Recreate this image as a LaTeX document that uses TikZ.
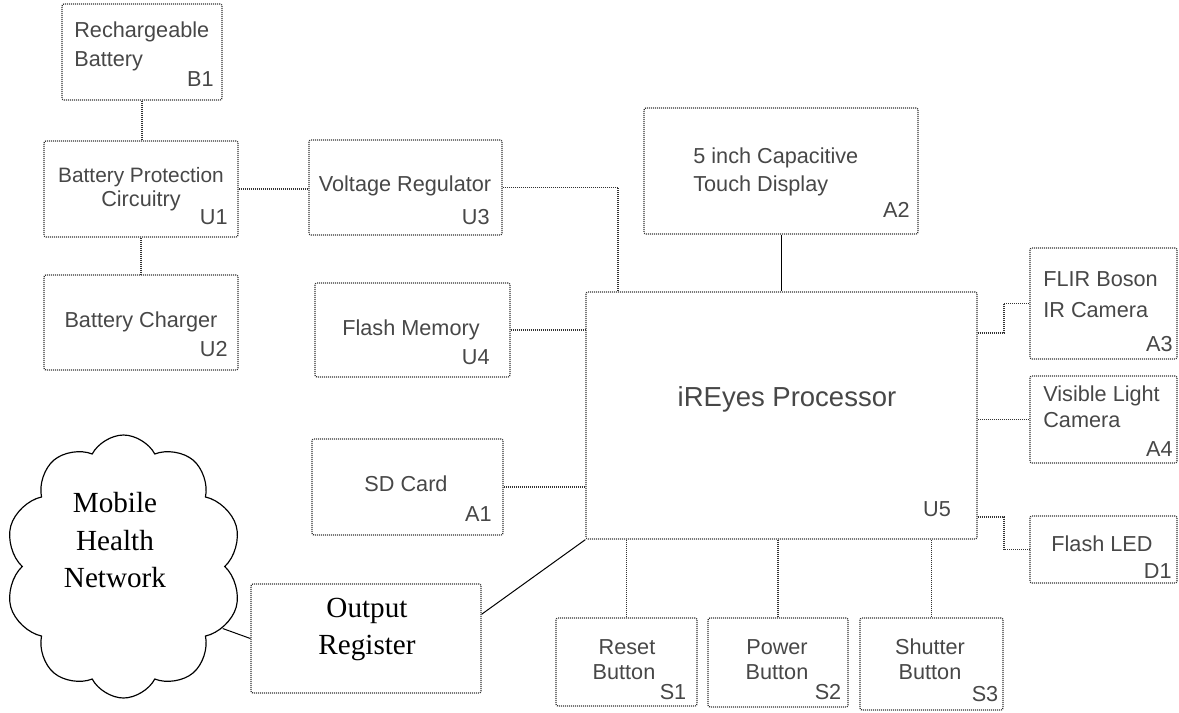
\documentclass[tikz,border=0pt]{standalone}
\usepackage{fontspec}
\setmainfont{Liberation Sans}
\newfontfamily\seriffam{Liberation Serif}
\usetikzlibrary{shapes.symbols,calc}
\newcommand\mkbox[5]{\node[box, minimum width={(#4-#2)*0.6pt}, minimum height={(#5-#3)*0.6pt}] (#1) at ({(#2+#4)/2},{(#3+#5)/2}) {};}
\begin{document}
\begin{tikzpicture}[x=0.6pt,y=-0.6pt,
  box/.style={draw=black!80, line width=0.75pt, dash pattern=on 0.6pt off 0.6pt, rounded corners=1.2pt, inner sep=0pt},
  link/.style={draw=black!80, line width=0.75pt, dash pattern=on 0.6pt off 0.6pt},
  solidlink/.style={draw=black, line width=0.6pt},
  txt/.style={font=\fontsize{13}{15}\selectfont, text=black!72, inner sep=0pt},
  stxt/.style={font=\seriffam\fontsize{17.5}{21}\selectfont, text=black, inner sep=0pt}]
\useasboundingbox (0,0) rectangle (1179,712);
% boxes
\mkbox{B1}{62}{4}{222}{100}
\mkbox{U1}{44}{141}{238}{237}
\mkbox{U2}{44}{275}{238}{370}
\mkbox{U3}{309}{140}{502}{235}
\mkbox{U4}{315}{283}{510}{377}
\mkbox{A1}{312}{439}{503}{535}
\mkbox{A2}{644}{108}{918}{234}
\mkbox{U5}{586}{292}{977}{539}
\mkbox{A3}{1030}{248}{1177}{359}
\mkbox{A4}{1030}{376}{1177}{463}
\mkbox{D1}{1030}{516}{1177}{583}
\mkbox{S1}{556}{618}{697}{706}
\mkbox{S2}{708}{618}{848}{707}
\mkbox{S3}{860}{618}{1003}{710}
\mkbox{OR}{251}{584}{481}{693}
\node[cloud, cloud puffs=10, cloud puff arc=125, cloud ignores aspect, draw=black, line width=0.7pt,
  minimum width={237*0.6pt}, minimum height={263*0.6pt}, inner sep=0pt] (net) at (123.5,566.5) {};
% texts
\node[txt, anchor=mid west] (tb1a) at (74,33) {Rechargeable};
\node[txt, anchor=mid west] (tb1b) at (74,62) {Battery};
\node[txt, anchor=mid east] (tb1c) at (214,82) {B1};
\node[txt, font=\fontsize{12.5}{14}\selectfont, anchor=mid] (tu1a) at (141,178) {Battery Protection};
\node[txt, anchor=mid] (tu1b) at (141,202) {Circuitry};
\node[txt, anchor=mid east] (tu1c) at (228,220) {U1};
\node[txt, anchor=mid] (tu2a) at (141,323) {Battery Charger};
\node[txt, anchor=mid east] (tu2c) at (228,352) {U2};
\node[txt, anchor=mid] (tu3a) at (405,187) {Voltage Regulator};
\node[txt, anchor=mid east] (tu3c) at (490,220) {U3};
\node[txt, anchor=mid] (tu4a) at (411,331) {Flash Memory};
\node[txt, anchor=mid east] (tu4c) at (490,360) {U4};
\node[txt, anchor=mid] (ta1a) at (406,487) {SD Card};
\node[txt, anchor=mid east] (ta1c) at (492,517) {A1};
\node[txt, anchor=mid west] (ta2a) at (693,159) {5 inch Capacitive};
\node[txt, anchor=mid west] (ta2b) at (693,187) {Touch Display};
\node[txt, anchor=mid east] (ta2c) at (910,213) {A2};
\node[txt, font=\fontsize{16.5}{19}\selectfont, anchor=mid] (tu5a) at (787,402) {iREyes Processor};
\node[txt, anchor=mid] (tu5c) at (937,512) {U5};
\node[txt, anchor=mid west] (ta3a) at (1043,282) {FLIR Boson};
\node[txt, anchor=mid west] (ta3b) at (1043,313) {IR Camera};
\node[txt, anchor=mid east] (ta3c) at (1173,347) {A3};
\node[txt, anchor=mid west] (ta4a) at (1043,397) {Visible Light};
\node[txt, anchor=mid west] (ta4b) at (1043,423) {Camera};
\node[txt, anchor=mid east] (ta4c) at (1173,452) {A4};
\node[txt, anchor=mid] (td1a) at (1102,547) {Flash LED};
\node[txt, anchor=mid east] (td1c) at (1172,574) {D1};
\node[txt, anchor=mid] (ts1a) at (627,650) {Reset};
\node[txt, anchor=mid] (ts1b) at (624,675) {Button};
\node[txt, anchor=mid] (ts1c) at (673,695) {S1};
\node[txt, anchor=mid] (ts2a) at (777,650) {Power};
\node[txt, anchor=mid] (ts2b) at (777,675) {Button};
\node[txt, anchor=mid] (ts2c) at (828,695) {S2};
\node[txt, anchor=mid] (ts3a) at (930,650) {Shutter};
\node[txt, anchor=mid] (ts3b) at (930,675) {Button};
\node[txt, anchor=mid] (ts3c) at (985,697) {S3};
\node[stxt, anchor=mid] (tora) at (367,613) {Output};
\node[stxt, anchor=mid] (torb) at (367,650) {Register};
\node[stxt, anchor=mid] (tnet1) at (115,508) {Mobile};
\node[stxt, anchor=mid] (tnet2) at (115,546) {Health};
\node[stxt, anchor=mid] (tnet3) at (115,583) {Network};
% connectors
\coordinate (k1) at (618,187);
\coordinate (k2) at (1004,333);
\coordinate (k3) at (1004,517);
\draw[link] (B1.south) -- (B1.south |- U1.north);
\draw[link] (U1.south) -- (U1.south |- U2.north);
\draw[link] (U1.east) -- (U1.east -| U3.west);
\draw[link] (U3.east) -- (U3.east -| k1) -- (k1 |- U5.north);
\draw[solidlink] (A2.south) -- (A2.south |- U5.north);
\draw[link] (U4.east) -- (U4.east -| U5.west);
\draw[link] (A1.east) -- (A1.east -| U5.west);
\draw[link] (k2 -| U5.east) -- (k2) -- (k2 |- A3.west) -- (A3.west);
\draw[link] (A4.west -| U5.east) -- (A4.west);
\draw[link] (k3 -| U5.east) -- (k3) -- (k3 |- D1.west) -- (D1.west);
\draw[link] (S1.north |- U5.south) -- (S1.north);
\draw[link] (S2.north |- U5.south) -- (S2.north);
\draw[link] (S3.north |- U5.south) -- (S3.north);
\draw[solidlink] ($(OR.north east)!0.28!(OR.south east)$) -- (U5.south west);
\draw[solidlink] (net.-32) -- (OR.west);
\end{tikzpicture}
\end{document}
